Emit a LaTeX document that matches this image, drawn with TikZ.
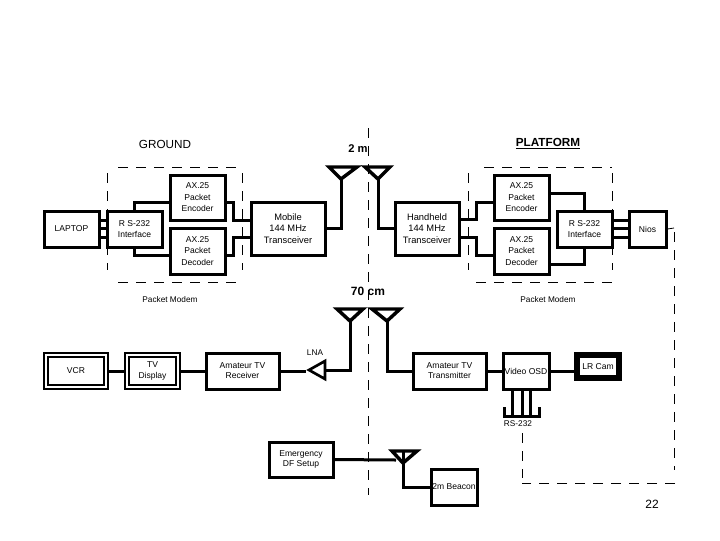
\documentclass[tikz,border=0pt]{standalone}
\usepackage{fontspec}
\setmainfont{Liberation Sans}
\usetikzlibrary{calc}
\tikzset{
  unit/.style={draw=black,line width=2.25pt,fill=white,inner sep=0pt,align=center,font=\fontsize{6.4}{8.6}\selectfont},
  tight/.style={font=\fontsize{6.4}{7.6}\selectfont},
  wide/.style={font=\fontsize{7}{8.6}\selectfont},
  screen/.style={unit,double=white,double distance=0.9pt,line width=2pt},
  camera/.style={unit,line width=4.6pt},
  wire/.style={line width=2.25pt,line join=miter},
  aerial/.style={line width=2.6pt,line join=miter},
  wrap/.style={dash pattern=on 7.5pt off 6pt,line width=0.75pt},
  thin wire/.style={line width=0.6pt},
  caption/.style={inner sep=0pt,font=\fontsize{6.2}{9}\selectfont},
  title/.style={inner sep=0pt,font=\fontsize{8.8}{10}\selectfont},
}
\begin{document}
\begin{tikzpicture}[x=0.75pt,y=-0.75pt]
  \useasboundingbox (0,0) rectangle (720,540);
  % dashed borders
  \draw[wrap] (368,128) -- (368,495);
  \draw[wrap] (118,167) -- (242,167) (107,173) -- (107,270) (242,173) -- (242,270) (118,282) -- (236,282);
  \draw[wrap] (484,167) -- (612,167) (468,173) -- (468,270) (612,173) -- (612,270) (476,282) -- (612,282);
  % ground station
  \node[unit,minimum width=55pt*0.75,minimum height=36pt*0.75] (laptop) at (71.5,229) {LAPTOP};
  \node[unit,minimum width=55pt*0.75,minimum height=36pt*0.75] (rsg) at (134.5,229) {R S-232\\Interface};
  \node[unit,minimum width=55pt*0.75,minimum height=45pt*0.75] (encg) at (197.5,197.5) {AX.25\\Packet\\Encoder};
  \node[unit,minimum width=55pt*0.75,minimum height=46pt*0.75] (decg) at (197.5,251) {AX.25\\Packet\\Decoder};
  \node[unit,wide,minimum width=74pt*0.75,minimum height=53pt*0.75] (mobile) at (288,228.5) {Mobile\\144 MHz\\Transceiver};
  % platform
  \node[unit,wide,minimum width=64pt*0.75,minimum height=53pt*0.75] (hand) at (427,228.5) {Handheld\\144 MHz\\Transceiver};
  \node[unit,minimum width=55pt*0.75,minimum height=45pt*0.75] (encp) at (521.5,197.5) {AX.25\\Packet\\Encoder};
  \node[unit,minimum width=55pt*0.75,minimum height=46pt*0.75] (decp) at (521.5,251) {AX.25\\Packet\\Decoder};
  \node[unit,minimum width=55pt*0.75,minimum height=36pt*0.75] (rsp) at (584.5,229) {R S-232\\Interface};
  \node[unit,minimum width=37pt*0.75,minimum height=36pt*0.75] (nios) at (647.5,229) {Nios};
  % video link
  \node[screen,minimum width=60pt*0.75,minimum height=32pt*0.75] (vcr) at (76,371) {VCR};
  \node[screen,minimum width=51pt*0.75,minimum height=32pt*0.75] (tv) at (152.5,371) {TV\\Display};
  \node[unit,tight,minimum width=73pt*0.75,minimum height=36pt*0.75] (rx) at (242.5,371) {Amateur TV\\Receiver};
  \node[unit,tight,minimum width=73pt*0.75,minimum height=36pt*0.75] (tx) at (449.5,371) {Amateur TV\\Transmitter};
  \node[unit,minimum width=46pt*0.75,minimum height=36pt*0.75] (osd) at (526,371) {Video OSD};
  \node[camera,minimum width=42pt*0.75,minimum height=23pt*0.75,anchor=center] (cam) at (598,366.5) {LR Cam};
  % beacon
  \node[unit,tight,minimum width=64pt*0.75,minimum height=35pt*0.75] (df) at (301,459.5) {Emergency\\DF Setup};
  \node[unit,minimum width=46pt*0.75,minimum height=36pt*0.75] (beacon) at (454,487) {2m Beacon};
  % aerials
  \foreach \name/\xa/\xb/\xc/\ya in {a/329/341/357/167,b/365/378/390/167,c/337/350/363/309,d/372/387/400/309,e/392/403/417/451}
    \draw[aerial] (\xa,\ya) -- (\xc,\ya) -- (\xb,\ya+12) coordinate (\name) -- cycle;
  \draw[wire] (403,451) -- (e);
  % connectors
  \foreach \yy in {220,228,237} {
    \draw[wire] (laptop.east |- 0,\yy) -- (rsg.west |- 0,\yy);
    \draw[wire] (rsp.east |- 0,\yy) -- (nios.west |- 0,\yy);
  }
  \draw[wire] (rsg.north) |- (encg.west |- 0,202);
  \draw[wire] (rsg.south) |- (decg.west |- 0,255);
  \draw[wire] (encg.east |- 0,202) -| (233,220) -- (mobile.west |- 0,220);
  \draw[wire] (decg.east |- 0,255) -| (233,237) -- (mobile.west |- 0,237);
  \draw[wire] (a) |- (mobile.east);
  \draw[wire] (b) |- (hand.west);
  \draw[wire] (hand.east |- 0,219) -| (476,202) -- (encp.west |- 0,202);
  \draw[wire] (hand.east |- 0,237) -| (476,255) -- (decp.west |- 0,255);
  \draw[wire] (encp.east |- 0,193) -| (rsp.north);
  \draw[wire] (decp.east |- 0,264) -| (rsp.south);
  \draw[wire] (vcr) -- (tv);
  \draw[wire] (tv) -- (rx);
  \draw[wire] (rx) -- (306,371);
  \draw[aerial,line width=2pt] (309,370) -- (325,361) -- (325,379) -- cycle;
  \draw[wire] (c) |- (325,370);
  \draw[wire] (d) |- (tx.west);
  \draw[wire] (tx) -- (osd);
  \draw[wire] (osd.east) -- (cam.west |- osd.east);
  \foreach \xx in {512,522,530}
    \draw[wire] (osd.south -| \xx,0) -- (\xx,416);
  \draw[wire] (504,407) |- (539,416) -- (539,407);
  \draw[wire] (df.east) -- (396,460);
  \draw[wire] (e) |- (beacon.west);
  % dashed return to the platform
  \draw[thin wire] (nios.east) -- (674,228);
  \draw[wrap] (674,232) -- (674,470) (675,483) -- (522,483) (522,433) -- (522,478);
  % labels
  \node[title] (ground) at (165,144) {GROUND};
  \node[title,font=\fontsize{8.8}{10}\selectfont\bfseries] (platform) at (548,144) {\underline{PLATFORM}};
  \node[title,font=\fontsize{8.4}{10}\selectfont\bfseries] (twom) at (358,149) {2 m};
  \node[title,font=\fontsize{9}{10}\selectfont\bfseries] (seventy) at (368,291) {70 cm};
  \node[caption] (modg) at (170,300) {Packet Modem};
  \node[caption] (modp) at (548,300) {Packet Modem};
  \node[caption] (lna) at (315,353) {LNA};
  \node[caption] (rslabel) at (518,424) {RS-232};
  \node[inner sep=0pt,font=\fontsize{9}{10}\selectfont] (page) at (652,504) {22};
\end{tikzpicture}
\end{document}
